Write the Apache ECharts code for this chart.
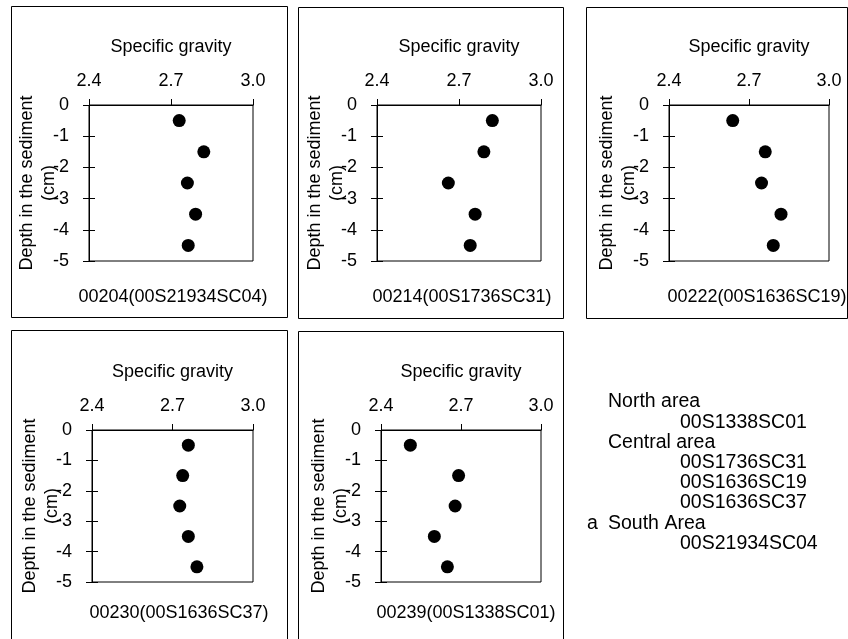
<!DOCTYPE html>
<html>
<head>
<meta charset="utf-8">
<title>Specific gravity profiles</title>
<script src="https://cdn.jsdelivr.net/npm/echarts@6.0.0/dist/echarts.min.js"></script>
<style>
  html, body { margin: 0; padding: 0; background: #fff; }
  #main { width: 848px; height: 639px; }
</style>
</head>
<body>
<div id="main"></div>
<script>
const depths = [-0.5, -1.5, -2.5, -3.5, -4.5];
const sg00204 = [2.73, 2.82, 2.76, 2.79, 2.763];
const sg00214 = [2.822, 2.791, 2.661, 2.759, 2.741];
const sg00222 = [2.639, 2.761, 2.747, 2.82, 2.791];
const sg00230 = [2.759, 2.738, 2.727, 2.759, 2.791];
const sg00239 = [2.51, 2.691, 2.678, 2.60, 2.649];
const sampleNames = [
  '00204(00S21934SC04)',
  '00214(00S1736SC31)',
  '00222(00S1636SC19)',
  '00230(00S1636SC37)',
  '00239(00S1338SC01)'
];
const areaLines = [
  ['', 'North area', ''],
  ['', '', '00S1338SC01'],
  ['', 'Central area', ''],
  ['', '', '00S1736SC31'],
  ['', '', '00S1636SC19'],
  ['', '', '00S1636SC37'],
  ['a', 'South Area', ''],
  ['', '', '00S21934SC04']
];

const FONT = "'Liberation Sans', Arial, sans-serif";

// panel layout: plot area + outer frame
const panels = [
  { data: sg00204, grid: [89, 105, 164, 156], box: [11, 6, 276, 311], label: [173, 297] },
  { data: sg00214, grid: [377, 105, 164, 156], box: [298, 7, 265, 311], label: [462, 297] },
  { data: sg00222, grid: [669, 105, 160, 156], box: [586, 7, 261, 311], label: [757, 297] },
  { data: sg00230, grid: [92, 430, 161, 152], box: [11, 330, 276, 320], label: [179, 613] },
  { data: sg00239, grid: [381, 430, 160, 152], box: [298, 331, 265, 320], label: [466, 613] }
];

const grids = [];
const xAxes = [];
const yAxes = [];
const series = [];
const graphics = [];

panels.forEach((p, i) => {
  grids.push({
    left: p.grid[0], top: p.grid[1], width: p.grid[2], height: p.grid[3],
    show: true, borderColor: '#000', borderWidth: 1, backgroundColor: 'transparent'
  });
  xAxes.push({
    gridIndex: i,
    type: 'value',
    position: 'top',
    min: 2.4, max: 3.0, interval: 0.3,
    name: 'Specific gravity',
    nameLocation: 'middle',
    nameGap: 49,
    nameMoveOverlap: false,
    nameTextStyle: { color: '#000', fontSize: 18, fontFamily: FONT },
    axisLine: { show: true, lineStyle: { color: '#000', width: 1 } },
    axisTick: { show: true, inside: false, length: 6, lineStyle: { color: '#000' } },
    axisLabel: {
      color: '#000', fontSize: 18, fontFamily: FONT, margin: 15,
      formatter: v => v.toFixed(1)
    },
    splitLine: { show: false }
  });
  // outer ticks + labels
  yAxes.push({
    gridIndex: i,
    type: 'value',
    min: -5, max: 0, interval: 1,
    name: 'Depth in the sediment\n(cm)',
    nameLocation: 'middle',
    nameGap: 29,
    nameMoveOverlap: false,
    nameTextStyle: { color: '#000', fontSize: 18, fontFamily: FONT, lineHeight: 22 },
    axisLine: { show: true, lineStyle: { color: '#000', width: 1 } },
    axisTick: { show: true, inside: false, length: 6, lineStyle: { color: '#000' } },
    axisLabel: { color: '#000', fontSize: 18, fontFamily: FONT, margin: 20 },
    splitLine: { show: false }
  });
  series.push({
    type: 'scatter',
    xAxisIndex: i,
    yAxisIndex: i,
    symbol: 'circle',
    symbolSize: 13,
    itemStyle: { color: '#000', opacity: 1 },
    data: p.data.map((v, k) => [v, depths[k]])
  });
  graphics.push({
    type: 'rect',
    shape: { x: p.box[0] + 0.5, y: p.box[1] + 0.5, width: p.box[2], height: p.box[3] },
    style: { fill: 'none', stroke: '#000', lineWidth: 1 },
    z: -1
  });
  graphics.push({
    type: 'text',
    x: p.label[0], y: p.label[1],
    style: {
      text: sampleNames[i], fill: '#000', font: '18px ' + FONT,
      textAlign: 'center', textVerticalAlign: 'middle'
    }
  });
});

// inner half of the cross ticks on the depth axes
panels.forEach((p, i) => {
  yAxes.push({
    gridIndex: i,
    type: 'value',
    position: 'left',
    min: -5, max: 0, interval: 1,
    axisLine: { show: false },
    axisTick: { show: true, inside: true, length: 6, lineStyle: { color: '#000' } },
    axisLabel: { show: false },
    splitLine: { show: false }
  });
});

// area list on the right
const areaFont = '19.5px ' + FONT;
areaLines.forEach((row, k) => {
  const y = 402 + k * 20.2;
  if (row[0]) graphics.push({ type: 'text', x: 587, y: y, style: { text: row[0], fill: '#000', font: areaFont, textVerticalAlign: 'middle' } });
  if (row[1]) graphics.push({ type: 'text', x: 608, y: y, style: { text: row[1], fill: '#000', font: areaFont, textVerticalAlign: 'middle' } });
  if (row[2]) graphics.push({ type: 'text', x: 680, y: y, style: { text: row[2], fill: '#000', font: areaFont, textVerticalAlign: 'middle' } });
});

const myChart = echarts.init(document.getElementById('main'), null, { renderer: 'canvas' });
myChart.setOption({
  backgroundColor: '#fff',
  animation: false,
  grid: grids,
  xAxis: xAxes,
  yAxis: yAxes,
  series: series,
  graphic: graphics
});
</script>
</body>
</html>
